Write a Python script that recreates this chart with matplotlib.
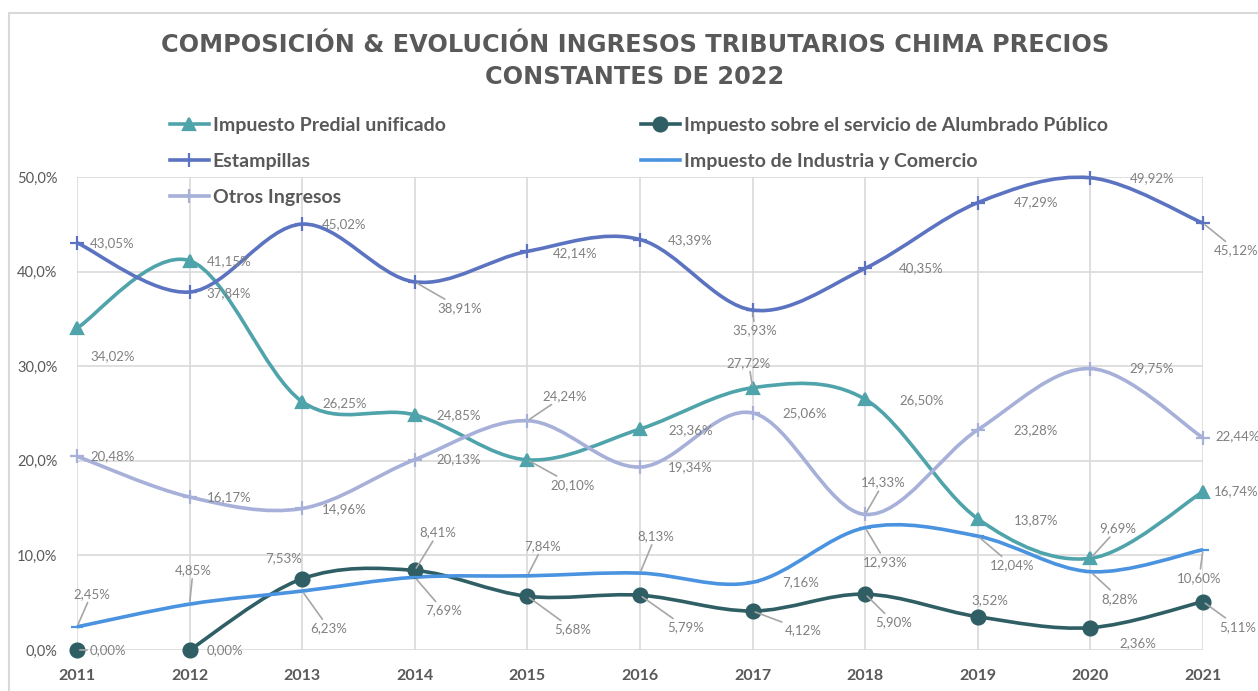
import numpy as np
import matplotlib
matplotlib.use('Agg')
import matplotlib.pyplot as plt
from matplotlib.path import Path
from matplotlib.patches import PathPatch, Rectangle
from matplotlib.lines import Line2D

# data (percent of total tax income)
years = [2011, 2012, 2013, 2014, 2015, 2016, 2017, 2018, 2019, 2020, 2021]
predial = [34.02, 41.15, 26.25, 24.85, 20.10, 23.36, 27.72, 26.50, 13.87, 9.69, 16.74]
alumbrado = [0.00, 0.00, 7.53, 8.41, 5.68, 5.79, 4.12, 5.90, 3.52, 2.36, 5.11]
estampillas = [43.05, 37.84, 45.02, 38.91, 42.14, 43.39, 35.93, 40.35, 47.29, 49.92, 45.12]
industria = [2.45, 4.85, 6.23, 7.69, 7.84, 8.13, 7.16, 12.93, 12.04, 8.28, 10.60]
otros = [20.48, 16.17, 14.96, 20.13, 24.24, 19.34, 25.06, 14.33, 23.28, 29.75, 22.44]

y_ticks = [0, 10, 20, 30, 40, 50]
title = 'COMPOSICIÓN & EVOLUCIÓN INGRESOS TRIBUTARIOS CHIMA PRECIOS\nCONSTANTES DE 2022'

# label offsets in pixels (dx to label left edge, dy up), and leader line flag
off_predial = [(13, -28, 0), (17, 0, 0), (20, -1, 0), (22, 0, 0), (23, -25, 1), (28, -1, 0),
               (-26, 25, 1), (34, -1, 0), (36, -1, 0), (9, 30, 1), (11, 0, 0)]
off_alumbrado = [(13, 0, 1), (17, 0, 0), (-37, 21, 0), (5, 38, 1), (27, -33, 1), (27, -32, 1),
                 (32, -19, 1), (10, -28, 1), (-6, 17, 0), (29, -15, 0), (16, -25, 1)]
off_estampillas = [(13, 0, 0), (17, -1, 0), (20, 0, 0), (23, -26, 1), (25, -2, 0), (28, -1, 0),
                   (-20, -20, 1), (34, 0, 0), (36, 0, 0), (39, 0, 0), (11, -27, 1)]
off_industria = [(-4, 33, 1), (-15, 34, 1), (8, -37, 1), (10, -33, 1), (-3, 30, 1), (-3, 37, 1),
                 (30, 0, 0), (-2, -34, 1), (12, -29, 1), (11, -27, 1), (-26, -28, 1)]
off_otros = [(13, 0, 0), (17, 0, 0), (20, -1, 0), (22, 0, 0), (15, 25, 1), (28, 0, 0),
             (30, 0, 0), (-4, 32, 1), (36, 0, 0), (39, 0, 0), (12, 2, 0)]

GREY = '#595959'
LABEL = '#808080'
FONT = 'Lato'


def smooth_path(xs, ys):
    # excel-like smoothed line as cubic bezier segments
    verts = [(xs[0], ys[0])]
    codes = [Path.MOVETO]
    n = len(xs)
    for i in range(n - 1):
        a = i - 1 if i > 0 else i
        d = i + 2 if i + 2 < n else i + 1
        c1 = (xs[i] + (xs[i + 1] - xs[a]) / 6, ys[i] + (ys[i + 1] - ys[a]) / 6)
        c2 = (xs[i + 1] - (xs[d] - xs[i]) / 6, ys[i + 1] - (ys[d] - ys[i]) / 6)
        verts += [c1, c2, (xs[i + 1], ys[i + 1])]
        codes += [Path.CURVE4] * 3
    return Path(verts, codes)


fig = plt.figure(figsize=(12.58, 6.91), dpi=100)
fig.patches.append(Rectangle((8.5 / 1258, -0.1), 1.2, 1 - 12.5 / 691 + 0.1, transform=fig.transFigure,
                             fill=False, edgecolor='#d9d9d9', lw=1.5))
ax = fig.add_axes([77 / 1258, 1 - 650 / 691, 1126 / 1258, 473 / 691])

ax.set_xlim(2011, 2021)
ax.set_ylim(0, 50)
ax.set_xticks(years)
ax.set_yticks(y_ticks)
ax.set_yticklabels([('%.1f%%' % t).replace('.', ',') for t in y_ticks])
ax.grid(True, color='#d9d9d9', lw=1.2)
ax.set_axisbelow(True)
for s in ax.spines.values():
    s.set_visible(False)
ax.tick_params(length=0)
ax.tick_params(axis='x', pad=14, labelsize=11.5, labelcolor=GREY)
ax.tick_params(axis='y', pad=14, labelsize=10.5, labelcolor=GREY)
for t in ax.get_xticklabels():
    t.set_fontweight('bold')
    t.set_fontfamily(FONT)
for t in ax.get_yticklabels():
    t.set_fontfamily(FONT)

series = [
    ('Impuesto Predial unificado', predial, '#4fa3aa', '^', 9, off_predial, 0),
    ('Estampillas', estampillas, '#5b73c0', '+', 10, off_estampillas, 0),
    ('Otros Ingresos', otros, '#a6b0d9', '+', 10, off_otros, 0),
    ('Impuesto sobre el servicio de Alumbrado Público', alumbrado, '#2f5f65', 'o', 10, off_alumbrado, 1),
    ('Impuesto de Industria y Comercio', industria, '#4a93e0', '_', 8, off_industria, 0),
]

handles = []
for name, vals, col, mk, ms, offs, start in series:
    # alumbrado line only drawn from 2012 on
    ax.add_patch(PathPatch(smooth_path(years[start:], vals[start:]), fill=False, edgecolor=col,
                           lw=2.6, capstyle='butt', clip_on=False, zorder=3))
    ax.plot(years, vals, ls='none', marker=mk, ms=ms, color=col, mew=1.6, clip_on=False, zorder=4)
    handles.append(Line2D([], [], color=col, lw=2.6, marker=mk, ms=ms, mew=1.6))
    for x, v, (dx, dy, lead) in zip(years, vals, offs):
        txt = ('%.2f%%' % v).replace('.', ',')
        ap = dict(arrowstyle='-', color='#a6a6a6', lw=1.2, shrinkA=0, shrinkB=2) if lead else None
        ax.annotate(txt, (x, v), xytext=(dx, dy), textcoords='offset pixels', ha='left', va='center',
                    fontsize=9.5, color=LABEL, family=FONT, arrowprops=ap, annotation_clip=False, zorder=5)

leg_kw = dict(loc='upper left', frameon=False, borderpad=0, borderaxespad=0, handlelength=2.0,
              handletextpad=0.2, labelspacing=0.98, numpoints=1,
              prop={'family': FONT, 'weight': 'bold', 'size': 14})
l1 = fig.legend(handles[:3], [s[0] for s in series[:3]], bbox_to_anchor=(170 / 1258, 1 - 117 / 691), **leg_kw)
l2 = fig.legend(handles[3:], [s[0] for s in series[3:]], bbox_to_anchor=(641 / 1258, 1 - 117 / 691), **leg_kw)
for lg in (l1, l2):
    for t in lg.get_texts():
        t.set_color(GREY)

fig.text(0.5 + 6 / 1258, 1 - 61 / 691, title, ha='center', va='center', fontsize=17.3, fontweight='bold',
         color=GREY, family='DejaVu Sans', linespacing=1.42)

fig.savefig('out.png', dpi=100)
